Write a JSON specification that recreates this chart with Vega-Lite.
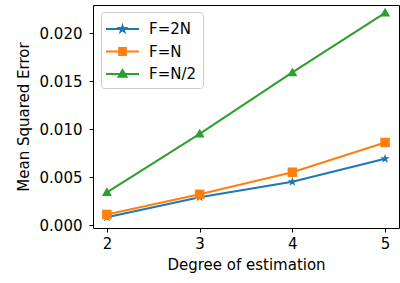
{
  "$schema": "https://vega.github.io/schema/vega-lite/v6.json",
  "width": 306,
  "height": 223,
  "autosize": {"type": "none"},
  "padding": {"left": 93, "top": 5, "right": 1, "bottom": 55},
  "config": {
    "font": "DejaVu Sans",
    "view": {"stroke": "black", "strokeWidth": 1},
    "axis": {
      "labelFont": "DejaVu Sans", "labelFontSize": 15, "labelColor": "black",
      "titleFont": "DejaVu Sans", "titleFontSize": 15, "titleFontWeight": "normal", "titleColor": "black",
      "tickColor": "black", "tickSize": 4, "tickWidth": 1, "domain": false, "grid": false
    }
  },
  "data": {
    "values": [
      {"degree": 2, "mse": 0.0008, "F": "F=2N"},
      {"degree": 3, "mse": 0.0029, "F": "F=2N"},
      {"degree": 4, "mse": 0.0045, "F": "F=2N"},
      {"degree": 5, "mse": 0.0069, "F": "F=2N"},
      {"degree": 2, "mse": 0.0011, "F": "F=N"},
      {"degree": 3, "mse": 0.0032, "F": "F=N"},
      {"degree": 4, "mse": 0.0055, "F": "F=N"},
      {"degree": 5, "mse": 0.0086, "F": "F=N"},
      {"degree": 2, "mse": 0.0034, "F": "F=N/2"},
      {"degree": 3, "mse": 0.0095, "F": "F=N/2"},
      {"degree": 4, "mse": 0.0159, "F": "F=N/2"},
      {"degree": 5, "mse": 0.0221, "F": "F=N/2"}
    ]
  },
  "encoding": {
    "x": {
      "field": "degree", "type": "quantitative",
      "scale": {"domain": [1.85, 5.15], "nice": false, "zero": false},
      "axis": {"values": [2, 3, 4, 5], "title": "Degree of estimation", "labelPadding": 4, "titlePadding": 6}
    },
    "y": {
      "field": "mse", "type": "quantitative",
      "scale": {"domain": [-0.0003125, 0.02292], "nice": false, "zero": false},
      "axis": {"values": [0, 0.005, 0.01, 0.015, 0.02], "format": ".3f", "title": "Mean Squared Error", "labelPadding": 7, "titlePadding": 8}
    },
    "color": {
      "field": "F", "type": "nominal",
      "scale": {"domain": ["F=2N", "F=N", "F=N/2"], "range": ["#1f77b4", "#ff7f0e", "#2ca02c"]},
      "legend": {
        "title": null,
        "orient": "none",
        "legendX": 8,
        "legendY": 7,
        "padding": 6,
        "rowPadding": 3.5,
        "symbolSize": 400,
        "symbolOffset": 4.5,
        "labelOffset": 15.5,
        "labelFont": "DejaVu Sans",
        "labelFontSize": 15,
        "labelColor": "black",
        "cornerRadius": 3,
        "strokeColor": "#cccccc",
        "fillColor": "rgba(255,255,255,0.8)",
        "encode": {
          "symbols": {
            "update": {
              "shape": {"signal": "datum.value === 'F=2N' ? 'M-1.65,0H1.65M0,-0.32L0.0718,-0.0988L0.3043,-0.0989L0.1161,0.0377L0.1881,0.2589L0,0.122L-0.1881,0.2589L-0.1161,0.0377L-0.3043,-0.0989L-0.0718,-0.0988Z' : datum.value === 'F=N' ? 'M-1.65,0H1.65M-0.34,-0.34H0.34V0.34H-0.34Z' : 'M-1.65,0H1.65M0,-0.4L0.4,0.28H-0.4Z'"},
              "size": {"value": 400},
              "fill": {"signal": "datum.value === 'F=2N' ? '#1f77b4' : datum.value === 'F=N' ? '#ff7f0e' : '#2ca02c'"},
              "stroke": {"signal": "datum.value === 'F=2N' ? '#1f77b4' : datum.value === 'F=N' ? '#ff7f0e' : '#2ca02c'"},
              "strokeWidth": {"value": 2},
              "opacity": {"value": 1}
            }
          }
        }
      }
    }
  },
  "layer": [
    {
      "mark": {"type": "line", "strokeWidth": 2}
    },
    {
      "transform": [{"filter": "datum.F === 'F=2N'"}],
      "mark": {"type": "point", "filled": true, "opacity": 1, "size": 100,
        "shape": "M0,-1L0.2234,-0.3074L0.951,-0.309L0.3614,0.1174L0.5878,0.809L0,0.38L-0.5878,0.809L-0.3614,0.1174L-0.951,-0.309L-0.2234,-0.3074Z"}
    },
    {
      "transform": [{"filter": "datum.F === 'F=N'"}],
      "mark": {"type": "point", "filled": true, "opacity": 1, "size": 100,
        "shape": "M-0.95,-0.95H0.95V0.95H-0.95Z"}
    },
    {
      "transform": [{"filter": "datum.F === 'F=N/2'"}],
      "mark": {"type": "point", "filled": true, "opacity": 1, "size": 100,
        "shape": "M0,-1L1,0.75H-1Z"}
    }
  ]
}
